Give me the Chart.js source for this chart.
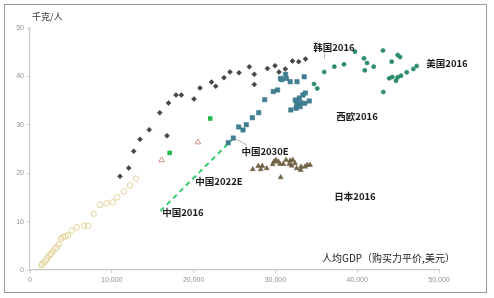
<!DOCTYPE html>
<html><head><meta charset="utf-8">
<script src="https://cdn.jsdelivr.net/npm/chart.js@4/dist/chart.umd.min.js"></script>
<style>html,body{margin:0;padding:0;background:#fff}#wrap{width:494px;height:298px;position:relative}</style>
</head><body><div id="wrap"><canvas id="c"></canvas></div>
<script>
// China historical (hollow circles)
const chinaHistX = [1380,1500,1750,1960,2110,2360,2570,2770,3060,3260,3510,3790,4000,4310,4640,5100,5710,6600,7120,7780,8550,9370,10110,10670,11490,12220,12950];
const chinaHistY = [0.97,1.24,1.59,2.0,2.48,3.04,3.31,3.86,4.4,4.69,5.31,6.47,6.76,6.96,7.17,8.12,8.82,9.15,9.09,11.63,13.49,13.78,13.99,15.0,16.26,17.5,18.86];
// Korea (dark diamonds)
const koreaX = [11000,12070,12680,13450,14580,15860,16750,16930,17850,18500,20050,20780,22190,22700,23720,24450,25550,26810,27420,27420,29030,29950,30440,31210,32090,32850,33680];
const koreaY = [19.36,21.07,24.55,27.0,28.99,32.5,27.73,34.5,36.16,36.16,35.33,37.6,38.84,37.98,39.73,40.9,40.74,41.98,40.43,38.33,41.63,42.21,40.91,41.53,43.18,43.04,43.6];
// Western Europe (teal squares)
const westEuX = [24240,24850,25510,26040,26440,27180,27960,28690,29740,30260,30620,30770,31240,31330,31810,32640,33520,32430,32920,33370,33660,32600,33090,33580,34140,31880,32520,33010];
const westEuY = [26.3,27.27,29.55,28.93,30.02,31.47,32.5,35.19,36.88,37.19,39.57,39.32,40.43,39.57,38.9,38.9,39.92,35.12,35.54,36.16,36.57,34.3,34.57,34.44,34.92,33.06,33.41,33.74];
// USA (green dots)
const usaX = [34720,35120,35970,37200,38390,39730,40830,41200,40920,42020,43150,44220,44950,45240,43190,43920,44290,44740,44950,45360,46050,46860,47270];
const usaY = [38.43,37.5,40.91,42.0,42.5,45.1,43.74,42.77,41.26,42.0,45.35,43.04,44.42,44.0,36.78,39.61,39.88,39.11,39.81,40.14,40.85,41.53,42.15];
// Japan (triangles)
const japanX = [27230,27910,28200,28400,28940,29670,29830,30070,30360,30560,30970,30650,31300,31790,32120,31700,31990,32400,32600,33090,33130,33620,33900,34230];
const japanY = [20.81,21.49,20.81,21.49,21.01,21.84,22.38,22.73,22.38,21.9,21.9,19.15,22.73,22.58,22.73,21.9,21.55,22.05,21.01,20.66,21.34,21.34,21.69,21.69];
// Other references
const greenSqX = [17070,22030];
const greenSqY = [24.2,31.3];
const redTriX = [16090,20530];
const redTriY = [22.7,26.4];
// China projection (dashed)
const chinaProjX = [15950,25050];
const chinaProjY = [12.2,27.5];
// Axis ticks
const xTicks = [0,10000,20000,30000,40000,50000];
const yTicks = [0,10,20,30,40,50];
// Text labels
const labelTexts = ['韩国2016','美国2016','西欧2016','日本2016','中国2030E','中国2022E','中国2016'];
const labelX = [37160,50980,39980,39730,28730,23100,18700];
const labelY = [46.07,42.77,31.82,15.29,24.59,18.39,11.98];

const pts = (xs, ys) => xs.map((x, i) => ({x, y: ys[i]}));
const CJK = '"Noto Sans CJK SC", "Liberation Sans", sans-serif';

const deco = {
  id: 'deco',
  beforeDraw(chart) {
    const ctx = chart.ctx;
    ctx.save();
    ctx.fillStyle = '#fff';
    ctx.fillRect(0, 0, chart.width, chart.height);
    ctx.strokeStyle = '#9a9a9a';
    ctx.lineWidth = 1;
    ctx.strokeRect(4.5, 4.5, 482, 288);
    ctx.restore();
  },
  afterDatasetsDraw(chart) {
    const ctx = chart.ctx, xs = chart.scales.x, ys = chart.scales.y;
    ctx.save();
    ctx.strokeStyle = '#b5b5b5';
    ctx.lineWidth = 1;
    ctx.beginPath();
    ctx.moveTo(xs.getPixelForValue(36000), ys.getPixelForValue(44.8));
    ctx.lineTo(xs.getPixelForValue(36000), ys.getPixelForValue(43.7));
    ctx.moveTo(xs.getPixelForValue(25180), ys.getPixelForValue(27.07));
    ctx.lineTo(xs.getPixelForValue(26530), ys.getPixelForValue(25.83));
    ctx.stroke();
    ctx.fillStyle = '#1a1a1a';
    ctx.font = 'bold 9.5px ' + CJK;
    ctx.textAlign = 'center';
    ctx.textBaseline = 'middle';
    labelTexts.forEach((t, i) => {
      ctx.fillText(t, xs.getPixelForValue(labelX[i]), ys.getPixelForValue(labelY[i]));
    });
    ctx.font = '9px ' + CJK;
    ctx.fillStyle = '#333';
    ctx.textAlign = 'left';
    ctx.fillText('千克/人', 32, 17);
    ctx.font = '10px ' + CJK;
    ctx.fillStyle = '#222';
    ctx.fillText('人均GDP（购买力平价,美元）', 322, 258);
    ctx.restore();
  }
};

new Chart(document.getElementById('c'), {
  type: 'scatter',
  data: {
    datasets: [
      {data: pts(chinaHistX, chinaHistY), pointStyle: 'circle', pointRadius: 2.8, borderWidth: 1, borderColor: '#e4d398', backgroundColor: 'rgba(255,255,255,0)'},
      {data: pts(koreaX, koreaY), pointStyle: 'rectRot', pointRadius: 2.5, borderWidth: 0.5, borderColor: '#3a3a3a', backgroundColor: '#454545'},
      {data: pts(westEuX, westEuY), pointStyle: 'rect', pointRadius: 3.1, borderWidth: 0.5, borderColor: '#336f80', backgroundColor: '#3f8193'},
      {data: pts(usaX, usaY), pointStyle: 'circle', pointRadius: 2.1, borderWidth: 0.5, borderColor: '#23805f', backgroundColor: '#2b8d6b'},
      {data: pts(japanX, japanY), pointStyle: 'triangle', pointRadius: 2.9, borderWidth: 0.5, borderColor: '#62543a', backgroundColor: '#756646'},
      {data: pts(greenSqX, greenSqY), pointStyle: 'rect', pointRadius: 3.2, borderWidth: 0, backgroundColor: '#1dbb48'},
      {data: pts(redTriX, redTriY), pointStyle: 'triangle', pointRadius: 3.3, borderWidth: 1, borderColor: '#d88f88', backgroundColor: 'rgba(255,255,255,0)'},
      {data: pts(chinaProjX, chinaProjY), showLine: true, pointRadius: 0, borderColor: '#36c96c', borderWidth: 2, borderDash: [5, 4]}
    ]
  },
  options: {
    responsive: true,
    maintainAspectRatio: false,
    animation: false,
    events: [],
    layout: {padding: {top: 28, right: 55, bottom: 8, left: 0}},
    plugins: {legend: {display: false}, tooltip: {enabled: false}},
    scales: {
      x: {
        type: 'linear', min: 0, max: 50000,
        afterBuildTicks: s => { s.ticks = xTicks.map(v => ({value: v})); },
        afterFit: s => { s.height = 20; },
        grid: {display: true, drawOnChartArea: false, drawTicks: true, tickLength: 3, color: '#ccc'},
        border: {display: true, color: '#c8c8c8', width: 1.2},
        ticks: {padding: 3, color: '#909090', font: {family: '"Liberation Sans", Arial, sans-serif', size: 7},
          callback: v => v.toLocaleString('en-US')}
      },
      y: {
        type: 'linear', min: 0, max: 50,
        afterBuildTicks: s => { s.ticks = yTicks.map(v => ({value: v})); },
        afterFit: s => { s.width = 30; },
        grid: {display: true, drawOnChartArea: false, drawTicks: true, tickLength: 3, color: '#ccc'},
        border: {display: true, color: '#c8c8c8', width: 1.2},
        ticks: {padding: 3, color: '#909090', font: {family: '"Liberation Sans", Arial, sans-serif', size: 7}}
      }
    }
  },
  plugins: [deco]
});
</script></body></html>
